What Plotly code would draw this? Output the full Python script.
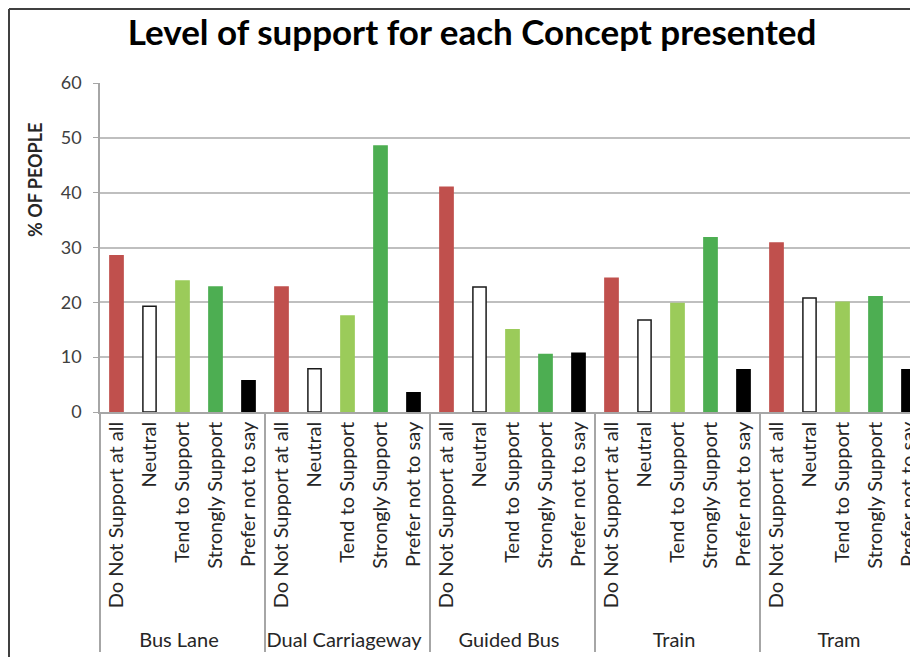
import plotly.graph_objects as go

concepts = ["Bus Lane", "Dual Carriageway", "Guided Bus", "Train", "Tram"]
levels = ["Do Not Support at all", "Neutral", "Tend to Support", "Strongly Support", "Prefer not to say"]

do_not_support = [28.5, 22.8, 41.0, 24.4, 30.8]
neutral = [19.3, 7.9, 22.8, 16.8, 20.8]
tend_to_support = [23.9, 17.5, 15.0, 19.8, 20.0]
strongly_support = [22.8, 48.5, 10.5, 31.8, 21.0]
prefer_not_to_say = [5.7, 3.5, 10.7, 7.7, 7.7]

y_ticks = [0, 10, 20, 30, 40, 50, 60]

series = [do_not_support, neutral, tend_to_support, strongly_support, prefer_not_to_say]
fill_colors = ["#C0504D", "#FFFFFF", "#9BCB5A", "#4DAE52", "#000000"]
line_colors = ["#C0504D", "#1a1a1a", "#9BCB5A", "#4DAE52", "#000000"]

outer, inner, vals, fills, lines = [], [], [], [], []
for ci, c in enumerate(concepts):
    for li, lv in enumerate(levels):
        outer.append(c)
        inner.append(lv)
        vals.append(series[li][ci])
        fills.append(fill_colors[li])
        lines.append(line_colors[li])

fig = go.Figure(go.Bar(
    x=[outer, inner], y=vals,
    marker=dict(color=fills, line=dict(color=lines, width=1.5)),
    width=0.4,
))

font_main = "Lato, 'Open Sans', sans-serif"

# page body has an 8px margin, so the figure is sized to fill the rest of the window
W, H = 910, 649
L, T, B = 92, 75, 245
plot_w = W - L
plot_h = H - T - B

fig.update_layout(
    width=W, height=H,
    margin=dict(l=L, r=0, t=T, b=B, autoexpand=False),
    paper_bgcolor="white", plot_bgcolor="white",
    showlegend=False,
    title=dict(text="<b>Level of support for each Concept presented</b>",
               x=0.51, xref="container", xanchor="center",
               y=1 - 25 / H, yref="container", yanchor="middle",
               font=dict(family=font_main, size=35, color="#000000")),
    font=dict(family=font_main),
)

fig.update_xaxes(
    type="multicategory",
    range=[-0.5, -0.5 + plot_w / 33.0],
    tickangle=-90,
    tickfont=dict(family=font_main, size=20, color="#262626"),
    showline=True, linecolor="#A6A6A6", linewidth=1.5,
    showdividers=True, dividercolor="#A6A6A6", dividerwidth=1.5,
    ticks="",
    showgrid=False,
)

fig.update_yaxes(
    range=[0, 60],
    tickvals=y_ticks,
    tickfont=dict(family=font_main, size=18, color="#404040"),
    showgrid=True, gridcolor="#BFBFBF", gridwidth=1.5,
    showline=True, linecolor="#A6A6A6", linewidth=1.5,
    ticks="outside", ticklen=5, tickcolor="#A6A6A6",
    ticklabelstandoff=8,
    zeroline=False,
)

fig.add_annotation(
    text="<b>% OF PEOPLE</b>", textangle=-90,
    xref="paper", yref="paper", x=(27 - L) / plot_w, y=(T + plot_h - 172) / plot_h,
    xanchor="center", yanchor="middle",
    showarrow=False, font=dict(family=font_main, size=18, color="#262626"),
)

# frame of the chart area (left and top edges)
fx = (1 - L) / plot_w
fy_top = (T + plot_h - 1) / plot_h
fy_bot = (T + plot_h - H) / plot_h
fig.add_shape(type="line", xref="paper", yref="paper",
              x0=fx, x1=fx, y0=fy_top, y1=fy_bot,
              line=dict(color="#404040", width=2))
fig.add_shape(type="line", xref="paper", yref="paper",
              x0=fx, x1=1.0, y0=fy_top, y1=fy_top,
              line=dict(color="#404040", width=2))

fig.write_html("out.html")
